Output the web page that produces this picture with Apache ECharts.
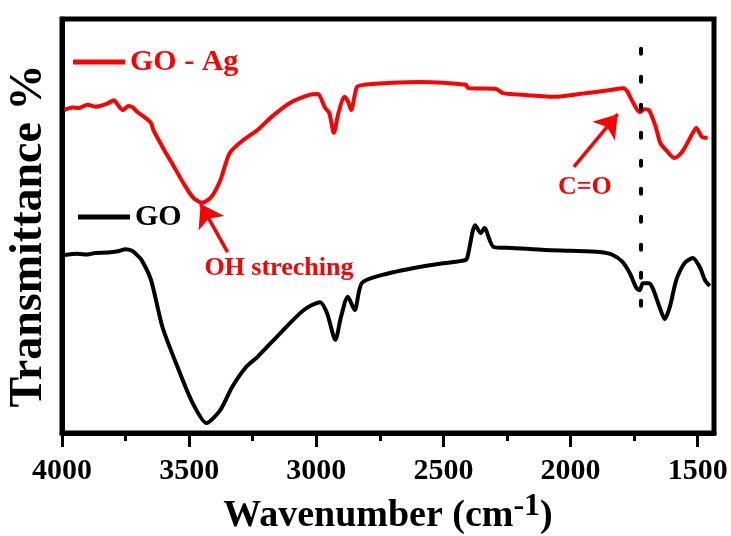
<!DOCTYPE html>
<html>
<head>
<meta charset="utf-8">
<script src="https://cdn.jsdelivr.net/npm/echarts@6/dist/echarts.min.js"></script>
<style>
html,body{margin:0;padding:0;background:#fff;}
#chart{width:731px;height:536px;}
</style>
</head>
<body>
<div id="chart"></div>
<script>
// ---- data ----
const goAgWn = [3991,3960,3933,3900,3870,3851,3820,3796,3780,3760,3740,3723,3705,3687,3650,3641,3605,3568,3523,3486,3450,3413,3377,3341,3286,3231,3177,3104,3031,2994,2967,2949,2931,2913,2889,2875,2863,2840,2812,2700,2594,2500,2412,2403,2293,2266,2170,2066,1950,1850,1792,1778,1756,1728,1710,1692,1665,1647,1620,1592,1575,1556,1519,1506,1483,1461];
const goAgT  = [78.0,78.6,78.5,79.3,78.8,79.0,79.6,80.4,79.2,78.0,79.0,78.7,77.6,76.8,74.9,73.2,69.1,65.2,60.4,57.0,55.6,57.0,61.1,67.6,70.8,73.2,76.3,79.7,81.6,81.9,78.7,77.3,72.5,77.3,81.2,80.0,78.0,83.6,84.1,84.6,84.8,84.6,84.1,83.3,83.1,82.1,81.6,81.2,82.0,82.8,83.3,82.6,80.0,77.5,78.2,78.0,73.9,70.0,68.0,66.4,67.0,68.4,72.5,73.7,71.5,71.3];
const goWn = [3991,3940,3900,3869,3820,3780,3750,3725,3705,3687,3650,3605,3541,3486,3432,3377,3331,3277,3231,3140,3049,2985,2958,2925,2903,2876,2849,2821,2740,2594,2500,2412,2403,2375,2353,2339,2302,2229,2100,2000,1885,1834,1795,1767,1741,1728,1716,1692,1677,1650,1630,1610,1584,1551,1519,1492,1472,1453];
const goT  = [43.0,43.3,43.1,43.5,43.6,43.9,44.4,44.0,43.0,41.8,37.0,25.6,15.2,7.2,2.4,5.6,11.1,15.9,18.4,24.2,29.7,31.6,29.0,22.5,28.0,32.9,29.7,36.2,38.2,40.1,41.0,41.8,43.2,50.2,48.3,49.5,44.9,44.7,44.2,44.0,43.7,43.0,41.3,38.6,35.0,34.5,36.2,36.2,35.0,30.4,27.5,30.4,37.0,41.1,42.3,40.1,37.0,35.5];
const xMajorTicks = [4000,3500,3000,2500,2000,1500];
const xMinorTicks = [3750,3250,2750,2250,1750];
const xRange = [1436,4000];
const seriesNames = ['GO - Ag','GO'];
// annotations: [wavenumber, value]
const ohArrow = [[3349,43.7],[3455,55.3]];
const coArrow = [[1987,64.3],[1815,77.0]];
const ohLabel = [3147,39.9];
const coLabel = [1944,59.4];
const dotLine = [[1725,92.8],[1725,27.5]];

const FONT = '"Liberation Serif","Times New Roman",serif';
const zip = (a,b)=>a.map((v,i)=>[v,b[i]]);

const chart = echarts.init(document.getElementById('chart'), null, {renderer:'canvas'});
const option = {
  backgroundColor:'#fff',
  animation:false,
  grid:{left:62,right:17,top:19,bottom:103,containLabel:false,outerBoundsMode:'none',
        show:true,borderColor:'#000',borderWidth:5,backgroundColor:'transparent'},
  legend:[
    {data:[seriesNames[0]],left:68,top:42,icon:'rect',itemWidth:52,itemHeight:5,
     textStyle:{color:'#ff0000',fontFamily:FONT,fontWeight:'bold',fontSize:30},selectedMode:false},
    {data:[seriesNames[1]],left:73,top:197,icon:'rect',itemWidth:52,itemHeight:5,
     textStyle:{color:'#000',fontFamily:FONT,fontWeight:'bold',fontSize:30},selectedMode:false}
  ],
  xAxis:[
    {type:'value',inverse:true,min:xRange[0],max:xRange[1],position:'bottom',
     axisLine:{show:true,lineStyle:{color:'#000',width:5}},
     axisTick:{show:true,inside:false,length:14,lineStyle:{color:'#000',width:3},customValues:xMajorTicks},
     axisLabel:{show:true,customValues:xMajorTicks,formatter:v=>String(v),margin:23,color:'#000',fontFamily:FONT,fontWeight:'bold',fontSize:30},
     splitLine:{show:false},
     name:'{a|Wavenumber (cm}{s|-1}{a|)}',nameLocation:'middle',nameGap:53,
     nameTextStyle:{rich:{
       a:{fontFamily:FONT,fontWeight:'bold',fontSize:38,color:'#000',lineHeight:50},
       s:{fontFamily:FONT,fontWeight:'bold',fontSize:32,color:'#000',lineHeight:32,verticalAlign:'top'}
     }}},
    {type:'value',inverse:true,min:xRange[0],max:xRange[1],position:'bottom',
     axisLine:{show:false},
     axisTick:{show:true,length:8,lineStyle:{color:'#000',width:3},customValues:xMinorTicks},
     axisLabel:{show:false,customValues:xMinorTicks},splitLine:{show:false}}
  ],
  yAxis:{type:'value',min:0,max:100,
    axisLine:{show:true,lineStyle:{color:'#000',width:5}},
    axisTick:{show:false},axisLabel:{show:false},splitLine:{show:false},
    name:'Transmittance %',nameLocation:'middle',nameGap:10,
    nameTextStyle:{fontFamily:FONT,fontWeight:'bold',fontSize:46,color:'#000',padding:[0,20,0,0]}},
  series:[
    {name:seriesNames[0],type:'line',data:zip(goAgWn,goAgT),showSymbol:false,smooth:0.25,
     lineStyle:{color:'#ff0000',width:4},itemStyle:{color:'#ff0000'},
     markLine:{silent:true,symbol:['none','arrow'],symbolSize:22,label:{show:false},
       lineStyle:{color:'#ff0000',width:3.5,type:'solid'},
       data:[[{coord:ohArrow[0]},{coord:ohArrow[1]}],[{coord:coArrow[0]},{coord:coArrow[1]}]]},
     markPoint:{silent:true,symbol:'circle',symbolSize:0,itemStyle:{color:'transparent'},
       label:{show:true,position:'inside',color:'#ff0000',fontFamily:FONT,fontWeight:'bold',fontSize:26},
       data:[{coord:ohLabel,label:{formatter:'OH streching'}},{coord:coLabel,label:{formatter:'C=O'}}]}},
    {name:seriesNames[1],type:'line',data:zip(goWn,goT),showSymbol:false,smooth:0.25,
     lineStyle:{color:'#000',width:4},itemStyle:{color:'#000'},
     markLine:{silent:true,symbol:['none','none'],label:{show:false},
       lineStyle:{color:'#000',width:4,type:[5,23],cap:'round'},
       data:[[{coord:dotLine[0]},{coord:dotLine[1]}]]}}
  ]
};
chart.setOption(option);
</script>
</body>
</html>
